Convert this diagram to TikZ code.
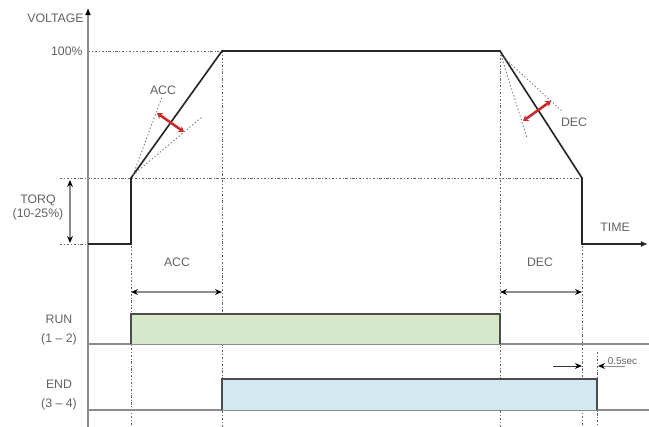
\documentclass[tikz,border=0pt]{standalone}
\usepackage{fontspec}
\setmainfont{Liberation Sans}
\usepackage{xcolor}
\usetikzlibrary{arrows.meta, positioning}

\definecolor{runfill}{HTML}{D5E8C9}
\definecolor{endfill}{HTML}{D3E9F1}
\definecolor{slopered}{HTML}{CC2A2A}

\tikzset{
  lbl/.style={text=black!62, font=\fontsize{10.5}{12}\selectfont, inner sep=1pt},
  axisline/.style={black!45, line width=0.9pt},
  guide/.style={black!60, line width=0.5pt, dash pattern=on 2pt off 1.6pt on 0.6pt off 1.6pt},
  curve/.style={black!85, line width=1.4pt},
  span/.style={{Stealth[length=6pt, width=5pt, color=black]}-{Stealth[length=6pt, width=5pt, color=black]}, black!45, line width=1pt},
  fan/.style={black!55, line width=0.7pt, dash pattern=on 1.2pt off 1.8pt},
  slopearrow/.style={{Stealth[length=4.5pt, width=6pt]}-{Stealth[length=4.5pt, width=6pt]}, slopered, line width=2.2pt},
  sigbox/.style={draw=black!70, line width=1pt},
}

\begin{document}
\begin{tikzpicture}[x=0.03cm, y=-0.03cm]
  \useasboundingbox (0,0) rectangle (649,427);

  % key points of the voltage profile
  \coordinate (o) at (88,244);
  \coordinate (ytop) at (88,8);
  \coordinate (ybot) at (88,427);
  \coordinate (xend) at (648,244);
  \coordinate (s1) at (131,244);
  \coordinate (t1) at (131,178);
  \coordinate (p1) at (222,51);
  \coordinate (p2) at (500,51);
  \coordinate (t2) at (582,178);
  \coordinate (s2) at (582,244);

  % guides
  \draw[guide] (88,51) -- (p1);
  \draw[guide] (60,178) -- (t2);
  \draw[guide] (60,244) -- (o);
  \foreach \x/\y in {131/178, 222/51, 500/51, 582/178, 597/352}
    \draw[guide] (\x,\y) -- (\x,427);

  % axes and signal baselines
  \draw[axisline, -{Latex[length=6pt, width=5pt, color=black]}] (ybot) -- (ytop);
  \draw[axisline] (88,344) -- (649,344);
  \draw[axisline] (88,410) -- (649,410);

  % voltage curve
  \draw[curve, -{Latex[length=6pt, width=5pt]}] (o) -- (s1) -- (t1) -- (p1) -- (p2) -- (t2) -- (s2) -- (xend);

  \node[lbl, anchor=east] (volt) at (85,18) {VOLTAGE};
  \node[lbl, anchor=east] (full) at (84,51) {100\%};
  \node[lbl] (time) at (615,227) {TIME};

  % starting torque
  \coordinate (tq1) at (70,180);
  \coordinate (tq2) at (70,243);
  \draw[span] (tq1) -- (tq2);
  \node[lbl] (torq) at (38,200) {TORQ};
  \node[lbl, below=0.5pt of torq] (torqv) {(10-25\%)};

  % acceleration slope
  \coordinate (af) at (133,175);
  \coordinate (a1) at (162,97);
  \coordinate (a2) at (202,117);
  \coordinate (ar1) at (157,113);
  \coordinate (ar2) at (184,132);
  \draw[fan] (af) -- (a1);
  \draw[fan] (af) -- (a2);
  \draw[slopearrow] (ar1) -- (ar2);
  \node[lbl] (accup) at (163,90) {ACC};

  % deceleration slope
  \coordinate (df) at (501,55);
  \coordinate (d1) at (527,138);
  \coordinate (d2) at (563,112);
  \coordinate (dr1) at (523,121);
  \coordinate (dr2) at (551,101);
  \draw[fan] (df) -- (d1);
  \draw[fan] (df) -- (d2);
  \draw[slopearrow] (dr1) -- (dr2);
  \node[lbl] (decup) at (574,122) {DEC};

  % ramp times
  \coordinate (aa) at (131,292);
  \coordinate (ab) at (222,292);
  \coordinate (da) at (500,292);
  \coordinate (db) at (582,292);
  \draw[span] (aa) -- (ab);
  \draw[span] (da) -- (db);
  \node[lbl] (acclo) at (177,262) {ACC};
  \node[lbl] (declo) at (540,262) {DEC};

  % relay outputs
  \draw[sigbox, fill=runfill] (131,344) -- (131,314) -- (500,314) -- (500,344);
  \draw[sigbox, fill=endfill] (222,410) -- (222,379) -- (597,379) -- (597,410);
  \node[lbl] (run) at (59,319) {RUN};
  \node[lbl] (runpins) at (59,339) {(1 -- 2)};
  \node[lbl] (endl) at (59,384) {END};
  \node[lbl] (endpins) at (59,404) {(3 -- 4)};

  % end delay
  \coordinate (e1) at (553,366);
  \coordinate (e2) at (582,366);
  \coordinate (e3) at (625,366);
  \coordinate (e4) at (598,366);
  \draw[black!80, line width=0.8pt, -{Stealth[length=6pt, width=5pt, color=black]}] (e1) -- (e2);
  \draw[black!45, line width=0.8pt, -{Stealth[length=6pt, width=5pt, color=black]}] (e3) -- (e4);
  \node[lbl, font=\fontsize{8.5}{9}\selectfont, anchor=south west, inner sep=0.5pt] (half) at (607,365) {0.5sec};
\end{tikzpicture}
\end{document}
